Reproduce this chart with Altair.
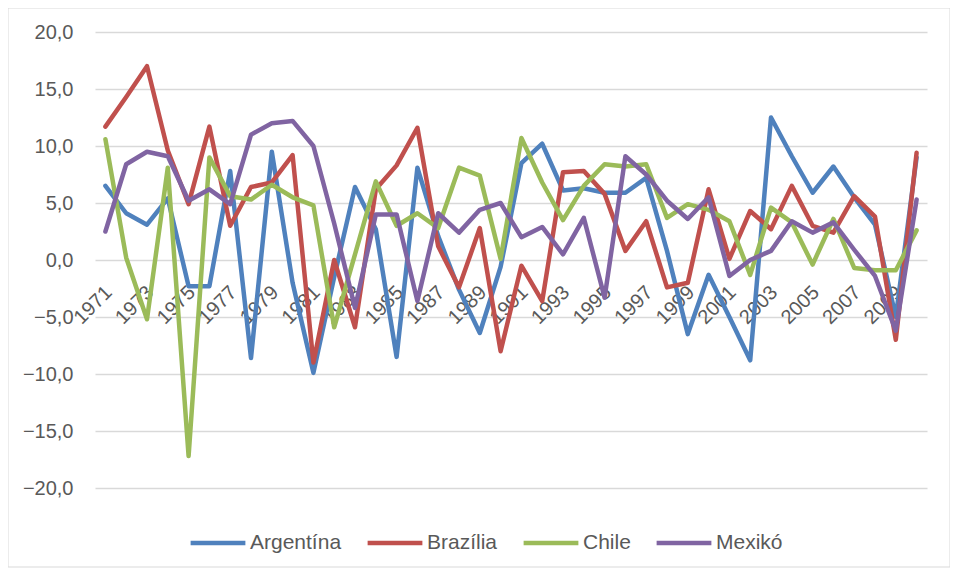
import altair as alt
import pandas as pd

years = list(range(1971, 2011))

argentina = [6.5, 4.1, 3.1, 5.4, -2.3, -2.3, 7.8, -8.6, 9.5, -2.0,
             -9.9, -1.5, 6.4, 2.7, -8.5, 8.1, 2.1, -2.6, -6.4, -0.6,
             8.5, 10.2, 6.1, 6.3, 5.9, 5.9, 7.2, 0.8, -6.5, -1.3,
             -5.0, -8.8, 12.5, 9.1, 5.9, 8.2, 5.5, 3.1, -5.0, 9.0]
brazilia = [11.7, 14.3, 17.0, 9.6, 4.9, 11.7, 3.0, 6.4, 6.8, 9.2,
            -9.0, 0.0, -5.9, 6.2, 8.3, 11.6, 1.2, -2.4, 2.8, -8.0,
            -0.5, -3.6, 7.7, 7.8, 5.8, 0.8, 3.4, -2.4, -2.0, 6.2,
            0.1, 4.3, 2.7, 6.5, 3.0, 2.4, 5.6, 3.8, -7.0, 9.4]
chile = [10.6, 0.2, -5.2, 8.1, -17.2, 9.0, 5.6, 5.3, 6.6, 5.5,
         4.8, -5.9, 0.5, 6.9, 3.0, 4.1, 2.8, 8.1, 7.4, 0.1,
         10.7, 6.8, 3.5, 6.5, 8.4, 8.2, 8.4, 3.7, 4.9, 4.4,
         3.4, -1.3, 4.6, 3.3, -0.4, 3.6, -0.7, -0.9, -0.9, 2.6]
mexiko = [2.5, 8.4, 9.5, 9.1, 5.2, 6.2, 4.9, 11.0, 12.0, 12.2,
          10.0, 3.2, -4.2, 4.0, 4.0, -3.6, 4.1, 2.4, 4.4, 5.0,
          2.0, 2.9, 0.5, 3.7, -3.3, 9.1, 7.5, 5.2, 3.6, 5.5,
          -1.4, 0.0, 0.8, 3.4, 2.4, 3.3, 0.9, -1.4, -6.2, 5.3]

series_names = ["Argentína", "Brazília", "Chile", "Mexikó"]
series_colors = ["#4F81BD", "#C0504D", "#9BBB59", "#8064A2"]
y_ticks = [-20, -15, -10, -5, 0, 5, 10, 15, 20]
x_label_years = years[::2]

rows = []
for name, vals in zip(series_names, [argentina, brazilia, chile, mexiko]):
    for yr, v in zip(years, vals):
        rows.append({"Év": yr, "Érték": v, "Ország": name,
                     "ord": series_names.index(name)})
df = pd.DataFrame(rows)

FONT = "Liberation Sans"
TXT = "#595959"

lines = alt.Chart(df).mark_line(
    strokeWidth=4.5, strokeCap="round", strokeJoin="round"
).encode(
    x=alt.X("Év:O", scale=alt.Scale(type="point", padding=0.5),
            axis=alt.Axis(values=x_label_years, title=None, labelAngle=-45,
                          labelAlign="right", labelBaseline="middle",
                          ticks=False, domain=False, grid=False,
                          labelPadding=29, labelOffset=3, offset=-228,
                          labelOverlap=False)),
    y=alt.Y("Érték:Q", scale=alt.Scale(domain=[-20, 20], nice=False),
            axis=alt.Axis(values=y_ticks, title=None, ticks=False, domain=False,
                          labelPadding=22, gridColor="#D9D9D9", gridWidth=1.5,
                          labelExpr="replace(format(datum.value, '.1f'), '.', ',')")),
    color=alt.Color("Ország:N",
                    scale=alt.Scale(domain=series_names, range=series_colors),
                    legend=alt.Legend(orient="none", legendX=93, legendY=481,
                                      direction="horizontal", title=None,
                                      symbolType="stroke", symbolSize=3000,
                                      symbolStrokeWidth=4.5, labelOffset=2,
                                      columnPadding=16, labelFontSize=21,
                                      labelColor=TXT, labelFont=FONT)),
    order=alt.Order("ord:Q"),
    detail="Ország:N",
)

frame = alt.Chart(pd.DataFrame({"a": [0]})).mark_rect(
    fill="transparent", stroke="#D9D9D9", strokeWidth=1
).encode(
    x=alt.value(-87), x2=alt.value(855), y=alt.value(-24), y2=alt.value(535)
)

chart = alt.layer(frame, lines).properties(
    width=832, height=456,
    padding={"left": 87, "top": 24, "right": 23, "bottom": 80},
    autosize=alt.AutoSizeParams(type="none"),
).configure_axis(
    labelFont=FONT, labelFontSize=20, labelColor=TXT
).configure_view(strokeWidth=0)

chart.save("out.html", embed_options={"renderer": "svg", "actions": False})
